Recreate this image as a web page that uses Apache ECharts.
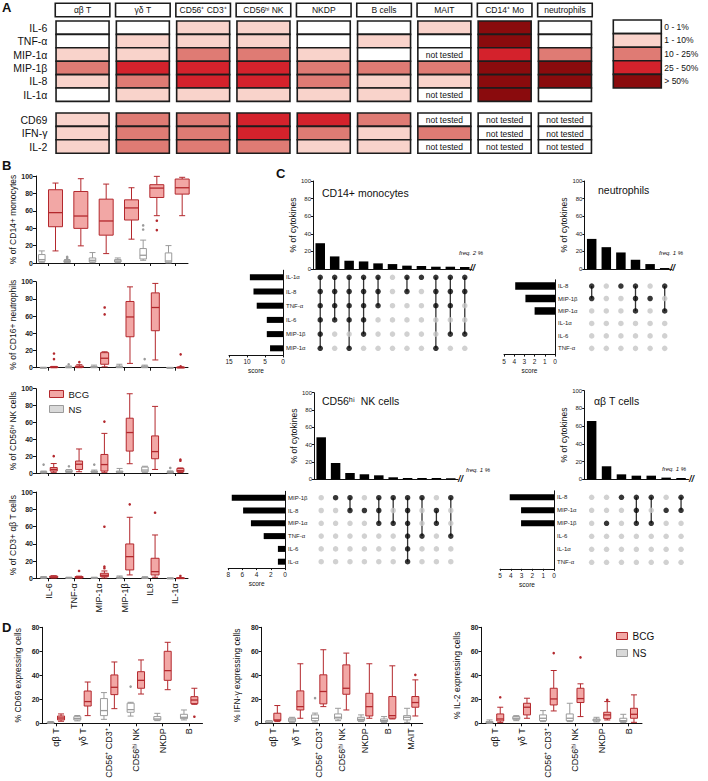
<!DOCTYPE html>
<html><head><meta charset="utf-8">
<script src="https://cdn.jsdelivr.net/npm/echarts@6/dist/echarts.min.js"></script>
<style>html,body{margin:0;padding:0;background:#fff}#chart{width:708px;height:781px}</style>
</head><body><div id="chart"></div>
<script>
const FONT = '"Liberation Sans", Arial, Helvetica, sans-serif';

// ================= DATA =================
// Panel A: levels 0..4 (0-1%,1-10%,10-25%,25-50%,>50%), -1 = not tested
const cellTypes = ['αβ T','γδ T','CD56⁺ CD3⁺','CD56ʰⁱ NK','NKDP','B cells','MAIT','CD14⁺ Mo','neutrophils'];
const cytokinesA = ['IL-6','TNF-α','MIP-1α','MIP-1β','IL-8','IL-1α'];
const markersA = ['CD69','IFN-γ','IL-2'];
const levelLegend = ['0 - 1%','1 - 10%','10 - 25%','25 - 50%','> 50%'];
const cytoLevels = [
  [0,0,1,2,1,0],
  [0,1,1,3,2,1],
  [1,1,2,3,3,1],
  [1,1,2,3,3,1],
  [0,0,1,2,2,1],
  [0,1,0,2,1,1],
  [1,0,-1,2,1,-1],
  [4,4,3,4,4,4],
  [0,0,2,4,4,0]
];
const markerLevels = [
  [1,1,1],
  [2,2,2],
  [2,2,2],
  [3,3,2],
  [3,2,1],
  [2,1,1],
  [-1,2,-1],
  [-1,-1,-1],
  [-1,-1,-1]
];

// Panel B: [min, q1, median, q3, max]
const cytokinesB = ['IL-6','TNF-α','MIP-1α','MIP-1β','IL8','IL-1α'];
const monoNS  = [[0.8,1.9,3.9,9.7,13.9],[0.5,0.8,1.9,3,4],[0.4,1.2,3.1,5.8,12],[0.4,1.2,2.3,3.9,5.8],[3.1,4.6,8.9,16.6,26.3],[0,0.8,2.3,11.6,20]];
const monoBCG = [[13.9,41.7,57.9,84.2,91.9],[19.7,39.8,54,82.2,96.9],[10.8,32,48.3,73.4,90.7],[27.4,49.4,63.3,72.6,86.5],[54.4,75.3,86.1,90,99.6],[54.4,79.2,86.5,96.5,98.5]];
const monoNSOut  = [[1,7],[1,5.5],[4,43.2],[4,38.5]];
const monoBCGOut = [[4,48.6],[4,37.8]];
const neuNS  = [[0,0,0,0.3,0.5],[0,0,0.5,1,2],[0,0.3,0.8,1.5,3],[0,0.4,1,2,4],[0,0.4,1,2,3],[0,0,0,0.2,0.4]];
const neuBCG = [[0,0.2,0.5,1,1.5],[0,0.5,1,2,3.5],[1,4,11,17.5,18.5],[5,36,59,77,94],[9,43,70,87,98],[0,0,0.3,0.6,1]];
const neuNSOut  = [[1,4],[4,10]];
const neuBCGOut = [[0,16.5],[0,10],[1,6.5],[2,70],[2,62],[5,15.5],[5,1.5]];
const nkNS  = [[0,0.4,1,1.6,2.3],[0.4,0.8,1.9,3.5,4],[0.4,0.8,1.5,2.3,3.5],[0.4,0.8,1.2,2.3,5.4],[0.8,1.5,3.5,7,8],[0,0.4,1,1.6,2.5]];
const nkBCG = [[0.8,2.3,4.2,6.5,11.2],[1.5,4.2,10.4,14.2,28.5],[0.8,2.3,10,22,47],[11,26,48,65,94],[4.2,16.9,25.4,44,79],[0.5,1.5,2.7,5.4,6]];
const nkNSOut  = [[0,10],[1,8],[2,10],[5,6]];
const nkBCGOut = [[0,20],[2,61],[5,16],[5,14.5]];
const abNS  = [[0,0.4,1,1.5,2],[0,0.2,0.5,1,1.2],[0,0.2,0.5,1,1.2],[0,0.3,0.8,1.5,2.7],[0,0.2,0.5,1,1.9],[0,0,0,0.2,0.4]];
const abBCG = [[0.3,0.8,1.5,2.5,3],[0.2,0.6,1,2,2.5],[0.4,1.9,3.5,5.8,8.5],[3.9,9.7,25.1,39.8,70.7],[1.2,3.9,7.7,23.2,50.2],[0,0,0.2,0.5,0.8]];
const abNSOut  = [];
const abBCGOut = [[1,8.5],[2,59.8],[2,13.5],[2,11.6],[3,85.7],[4,76],[5,2.7]];

// Panel C (UpSet)
const monoRows   = ['IL-1α','IL-8','TNF-α','IL-6','MIP-1β','MIP-1α'];
const monoScores = [9.2,8.2,7.3,4.5,4.5,3.6];
const monoFreq   = [29.3,14.3,9.4,8.6,6.4,5.6,3.8,3.4,2.6,2.6,2.3];
const monoSets   = [[0,1,2,3,4,5],[0,1,2,3],[0,1,2,3,5],[0,1,2,3,4],[0,1,2],[],[0,1],[0],[0,1,2,5],[0,1,2,4],[0,1,4]];
const neuRows    = ['IL-8','MIP-1β','MIP-1α','IL-1α','IL-6','TNF-α'];
const neuScores  = [3.9,2.9,2.0,0,0,0];
const neuFreq    = [34.2,24.8,18.8,10.5,5.6,1.1];
const neuSets    = [[0,1],[],[0],[0,1,2],[1],[0,2]];
const nkRows     = ['MIP-1β','IL-8','MIP-1α','TNF-α','IL-6','IL-α'];
const nkScores   = [7.5,5.9,4.8,3.0,1.0,1.0];
const nkFreq     = [48.5,18.8,7.3,5.8,4.6,2.3,1.5,1.5,1.5,1.2];
const nkSets     = [[],[0],[0,1],[1],[0,1,2],[0,2],[0,1,2,3,4,5],[0,3],[1,2],[0,3]];
const abRows     = ['IL-8','MIP-1α','MIP-1β','IL-6','IL-1α','TNF-α'];
const abScores   = [4.1,3.05,3.05,0,0,0];
const abFreq     = [65.8,14.7,5.6,4.1,4.1,1.9,1.5];
const abSets     = [[],[2],[0],[0,1,2],[0,2],[1],[0,1]];

// Panel D
const cellsD1 = ['αβ T','γδ T','CD56⁺ CD3⁺','CD56ʰⁱ NK','NKDP','B'];
const cellsD2 = ['αβ T','γδ T','CD56⁺ CD3⁺','CD56ʰⁱ NK','NKDP','B','MAIT'];
const cd69NS  = [[0,0.2,0.5,1,1.5],[2,2.8,4,5.5,6.5],[3.3,6.4,10.6,20.6,25.6],[6,9.2,11.4,16.7,17.5],[2.2,2.8,3.6,5.6,8.3],[2.8,3.9,5,7.5,11.1]];
const cd69BCG = [[1.7,2.8,4.4,6.1,7.8],[6.4,14.4,18.1,26.9,34.4],[12.2,23.9,30,40.3,51.1],[24.4,29.2,35.8,43,52.8],[28,35.8,43.9,60,67.5],[15.8,16.4,19.4,22.2,29.2]];
const cd69NSOut  = [[3,30.6]];
const cd69BCGOut = [[5,5.5]];
const ifnNS  = [[0.5,0.6,1,2,2.2],[0.8,1.4,2.8,4.2,5],[1,2.2,4.2,7,8.5],[2.2,3.6,5,7.8,12.5],[1.4,2.2,3.3,5,7],[0.8,1.4,2.2,3.6,5.6],[0.8,2.8,5,6.4,12.5]];
const ifnBCG = [[1.4,2.2,2.8,8.4,14.8],[4.2,11.1,13.9,27,49.6],[13.9,16.2,26.5,40.4,61.3],[11.1,24.2,29.2,48.7,58.5],[4.2,6.1,13.9,25,49.6],[3.6,4.2,6.4,22.3,47.9],[6.1,13.4,17.3,22.3,36.2]];
const ifnNSOut  = [[2,21],[2,16],[5,11.1]];
const ifnBCGOut = [[6,40.4]];
const il2NS  = [[0,0.3,0.8,1.4,2.8],[2.2,3.3,4.2,5.6,6.4],[1.4,2.2,4.2,7,10.6],[1.4,2.2,4.2,7.8,16.7],[1.1,1.9,2.8,3.6,5],[0.6,1.4,2.2,4.2,7.5]];
const il2BCG = [[0.6,1.9,3.6,7.8,13.4],[4.2,7,13.4,16.7,20.9],[10.3,15.3,20.3,29.2,44],[5.6,17.3,20.6,29.2,32.9],[2.8,3.9,7,9.2,18.1],[0.8,4.2,7.5,12.5,23.7]];
const il2NSOut  = [];
const il2BCGOut = [[0,21.7],[2,58.5],[3,54.9],[4,19.5]];

// ================= STYLE =================
const levelColors = ['#ffffff','#f9d3cb','#df7b74','#d4222c','#8a0b0d'];
const BCG_FILL = '#f2a7a5', BCG_LINE = '#b3282d';
const NS_FILL = '#ffffff', NS_LINE = '#9b9b9b';

const grids = [], xAxes = [], yAxes = [], series = [], graphic = [];
function addCart(grid, xa, ya) {
  const gi = grids.push(Object.assign({outerBoundsMode:'none', containLabel:false}, grid)) - 1;
  const xi = xAxes.push(Object.assign({gridIndex: gi}, xa)) - 1;
  const yi = yAxes.push(Object.assign({gridIndex: gi}, ya)) - 1;
  return {xi, yi};
}
function txt(text, left, top, size, extra) {
  graphic.push({type:'text', left, top, silent:true,
    style: Object.assign({text, fontSize:size, fontFamily:FONT, fill:'#111'}, extra || {})});
}
const hidden = {axisLine:{show:false}, axisTick:{show:false}, axisLabel:{show:false}, splitLine:{show:false}};

// ================= PANEL A =================
function cellRender(fixedW) {
  return function (params, api) {
    const c = api.coord([api.value(0), api.value(1)]);
    const band = api.size([1, 1]);
    const w = fixedW || band[0], h = band[1];
    const lv = api.value(2);
    const kids = [{type:'rect', shape:{x:c[0]-w/2, y:c[1]-h/2, width:w, height:h},
      style:{fill: lv < 0 ? '#fff' : levelColors[lv], stroke:'#1c1c1c', lineWidth:1.6}}];
    if (lv < 0) kids.push({type:'text', x:c[0], y:c[1]+0.5,
      style:{text:'not tested', fill:'#111', fontSize:8.5, fontFamily:FONT, align:'center', verticalAlign:'middle'}});
    return {type:'group', children:kids};
  };
}
const aLeft = 52.4, aWidth = 542.7;
const rowLabel = {fontSize:10.5, color:'#111', fontFamily:FONT, margin:5};
{
  const {xi, yi} = addCart({left:aLeft, top:21, width:aWidth, height:80.4},
    {type:'category', data:cellTypes, position:'top', axisLine:{show:false}, axisTick:{show:false}, splitLine:{show:false},
     axisLabel:{interval:0, margin:5, fontSize:8.5, color:'#111', fontFamily:FONT, backgroundColor:'#fff',
       borderColor:'#1c1c1c', borderWidth:1.6, width:49, height:10, lineHeight:10, padding:[1,2,1,2], align:'center'}},
    {type:'category', data:cytokinesA, inverse:true, axisLine:{show:false}, axisTick:{show:false}, splitLine:{show:false},
     axisLabel:Object.assign({interval:0}, rowLabel)});
  const d = [];
  cytoLevels.forEach((col, i) => col.forEach((lv, r) => d.push([i, r, lv])));
  series.push({type:'custom', xAxisIndex:xi, yAxisIndex:yi, renderItem:cellRender(53), encode:{x:0, y:1}, data:d, silent:true});
}
{
  const {xi, yi} = addCart({left:aLeft, top:113, width:aWidth, height:40.2},
    Object.assign({type:'category', data:cellTypes}, hidden),
    {type:'category', data:markersA, inverse:true, axisLine:{show:false}, axisTick:{show:false}, splitLine:{show:false},
     axisLabel:Object.assign({interval:0}, rowLabel)});
  const d = [];
  markerLevels.forEach((col, i) => col.forEach((lv, r) => d.push([i, r, lv])));
  series.push({type:'custom', xAxisIndex:xi, yAxisIndex:yi, renderItem:cellRender(53), encode:{x:0, y:1}, data:d, silent:true});
}
{
  const {xi, yi} = addCart({left:613.3, top:20, width:48, height:68},
    Object.assign({type:'category', data:['']}, hidden),
    {type:'category', data:levelLegend, inverse:true, position:'right', axisLine:{show:false}, axisTick:{show:false}, splitLine:{show:false},
     axisLabel:{interval:0, fontSize:8.5, color:'#111', fontFamily:FONT, margin:3}});
  series.push({type:'custom', xAxisIndex:xi, yAxisIndex:yi, renderItem:cellRender(0), encode:{x:0, y:1},
    data: levelLegend.map((l, r) => [0, r, r]), silent:true});
}

// ================= BOX PLOTS (B, D) =================
function boxRender(off, bw, fill, stroke) {
  return function (params, api) {
    const cat = api.value(0);
    const band = api.size([1, 0])[0];
    const x = api.coord([cat, 0])[0] + off * band;
    const Y = v => api.coord([cat, v])[1];
    const ymin = Y(api.value(1)), yq1 = Y(api.value(2)), ymed = Y(api.value(3)), yq3 = Y(api.value(4)), ymax = Y(api.value(5));
    const cap = Math.min(bw, 6) / 2;
    const st = {stroke, lineWidth:1};
    return {type:'group', children:[
      {type:'line', shape:{x1:x, y1:ymax, x2:x, y2:yq3}, style:st},
      {type:'line', shape:{x1:x, y1:yq1, x2:x, y2:ymin}, style:st},
      {type:'line', shape:{x1:x-cap, y1:ymax, x2:x+cap, y2:ymax}, style:st},
      {type:'line', shape:{x1:x-cap, y1:ymin, x2:x+cap, y2:ymin}, style:st},
      {type:'rect', shape:{x:x-bw/2, y:yq3, width:bw, height:Math.max(yq1-yq3, 0.8)}, style:{fill, stroke, lineWidth:1}},
      {type:'line', shape:{x1:x-bw/2, y1:ymed, x2:x+bw/2, y2:ymed}, style:{stroke, lineWidth:1.3}}
    ]};
  };
}
function outRender(off, color) {
  return function (params, api) {
    const cat = api.value(0);
    const band = api.size([1, 0])[0];
    const p = api.coord([cat, api.value(1)]);
    return {type:'circle', shape:{cx:p[0] + off*band, cy:p[1], r:1.3}, style:{fill:color}};
  };
}
function addBoxes(xi, yi, ns, bcg, nsOut, bcgOut, off, bwNS, bwBCG) {
  series.push({type:'custom', name:'NS', xAxisIndex:xi, yAxisIndex:yi, renderItem:boxRender(-off, bwNS, NS_FILL, NS_LINE),
    encode:{x:0, y:[1,2,3,4,5]}, data:ns.map((v, i) => [i].concat(v)), itemStyle:{color:'#d9d9d9'}, silent:true});
  series.push({type:'custom', name:'BCG', xAxisIndex:xi, yAxisIndex:yi, renderItem:boxRender(off, bwBCG, BCG_FILL, BCG_LINE),
    encode:{x:0, y:[1,2,3,4,5]}, data:bcg.map((v, i) => [i].concat(v)), itemStyle:{color:BCG_FILL}, silent:true});
  series.push({type:'custom', name:'NS outliers', xAxisIndex:xi, yAxisIndex:yi, renderItem:outRender(-off, NS_LINE),
    encode:{x:0, y:1}, data:nsOut, silent:true});
  series.push({type:'custom', name:'BCG outliers', xAxisIndex:xi, yAxisIndex:yi, renderItem:outRender(off, BCG_LINE),
    encode:{x:0, y:1}, data:bcgOut, silent:true});
}
const axLine = {show:true, lineStyle:{color:'#111', width:1}};
const tickLbl = {fontSize:7, fontWeight:'bold', color:'#222', fontFamily:FONT, margin:3};

// Panel B
const bPanels = [
  {top:176,   h:87,   name:'% of CD14+ monocytes',  ns:monoNS, bcg:monoBCG, nsO:monoNSOut, bcgO:monoBCGOut, bw:14, off:0.27},
  {top:281.7, h:86,   name:'% of CD16+ neutrophils', ns:neuNS,  bcg:neuBCG,  nsO:neuNSOut,  bcgO:neuBCGOut,  bw:8,  off:0.21},
  {top:388.7, h:84.3, name:'% of CD56ʰⁱ NK cells',   ns:nkNS,   bcg:nkBCG,   nsO:nkNSOut,   bcgO:nkBCGOut,   bw:7,  off:0.2},
  {top:492,   h:86.3, name:'% of CD3+ αβ T cells',   ns:abNS,   bcg:abBCG,   nsO:abNSOut,   bcgO:abBCGOut,   bw:8,  off:0.2}
];
bPanels.forEach((p, k) => {
  const last = k === bPanels.length - 1;
  const {xi, yi} = addCart({left:36, top:p.top, width:152, height:p.h},
    {type:'category', data:cytokinesB, axisLine:axLine, axisTick:{show:true, alignWithLabel:true, length:3, lineStyle:{color:'#111'}},
     splitLine:{show:false},
     axisLabel:{show:last, interval:0, rotate:90, fontSize:9, color:'#111', fontFamily:FONT, margin:5}},
    {type:'value', min:0, max:100, interval:20, axisLine:axLine, axisTick:{show:true, length:3, lineStyle:{color:'#111'}},
     splitLine:{show:false}, axisLabel:tickLbl,
     name:p.name, nameLocation:'middle', nameGap:19, nameRotate:90,
     nameTextStyle:{fontSize:8.5, color:'#111', fontFamily:FONT}});
  addBoxes(xi, yi, p.ns, p.bcg, p.nsO, p.bcgO, p.off, 6.5, p.bw);
});

// Panel D
const dPanels = [
  {left:42.5,  width:160,   cats:cellsD1, name:'% CD69 expressing cells',  ns:cd69NS, bcg:cd69BCG, nsO:cd69NSOut, bcgO:cd69BCGOut, off:0.195},
  {left:261.7, width:161,   cats:cellsD2, name:'% IFN-γ expressing cells', ns:ifnNS,  bcg:ifnBCG,  nsO:ifnNSOut,  bcgO:ifnBCGOut,  off:0.18},
  {left:481.5, width:160.5, cats:cellsD1, name:'% IL-2 expressing cells',  ns:il2NS,  bcg:il2BCG,  nsO:il2NSOut,  bcgO:il2BCGOut,  off:0.2}
];
dPanels.forEach(p => {
  const {xi, yi} = addCart({left:p.left, top:627.3, width:p.width, height:96},
    {type:'category', data:p.cats, axisLine:axLine, axisTick:{show:true, alignWithLabel:true, length:3, lineStyle:{color:'#111'}},
     splitLine:{show:false},
     axisLabel:{interval:0, rotate:90, fontSize:9, color:'#111', fontFamily:FONT, margin:5}},
    {type:'value', min:0, max:80, interval:20, axisLine:axLine, axisTick:{show:true, length:3, lineStyle:{color:'#111'}},
     splitLine:{show:false}, axisLabel:tickLbl,
     name:p.name, nameLocation:'middle', nameGap:20, nameRotate:90,
     nameTextStyle:{fontSize:8.5, color:'#111', fontFamily:FONT}});
  addBoxes(xi, yi, p.ns, p.bcg, p.nsO, p.bcgO, p.off, 7, 7);
});

// ================= PANEL C (UpSet) =================
function lineRender(params, api) {
  const p1 = api.coord([api.value(0), api.value(1)]);
  const p2 = api.coord([api.value(0), api.value(2)]);
  return {type:'line', shape:{x1:p1[0], y1:p1[1], x2:p2[0], y2:p2[1]}, style:{stroke:'#333', lineWidth:1.3}};
}
function addUpset(u) {
  const cols = u.freq.map((v, i) => String(i));
  const small = {fontSize:6, color:'#222', fontFamily:FONT};
  // frequency bars
  let a = addCart({left:u.left, top:u.barTop, width:u.width, height:u.barH},
    {type:'category', data:cols, axisLine:axLine, axisTick:{show:false}, axisLabel:{show:false}, splitLine:{show:false}},
    {type:'value', min:0, max:100, interval:20, axisLine:axLine, axisTick:{show:true, length:2, lineStyle:{color:'#111'}},
     splitLine:{show:false}, axisLabel:Object.assign({margin:2}, small),
     name:'% of cytokines', nameLocation:'middle', nameGap:16, nameRotate:90,
     nameTextStyle:{fontSize:8.5, color:'#111', fontFamily:FONT}});
  series.push({type:'bar', xAxisIndex:a.xi, yAxisIndex:a.yi, data:u.freq, barWidth:9.5, itemStyle:{color:'#000'}, silent:true});
  // matrix
  a = addCart({left:u.left, top:u.matTop, width:u.width, height:u.matH},
    Object.assign({type:'category', data:cols}, hidden),
    Object.assign({type:'category', data:u.rows, inverse:true}, hidden));
  const on = [], off = [], lines = [];
  u.sets.forEach((s, c) => {
    u.rows.forEach((r, ri) => (s.indexOf(ri) >= 0 ? on : off).push([c, ri]));
    if (s.length > 1) lines.push([c, Math.min.apply(null, s), Math.max.apply(null, s)]);
  });
  series.push({type:'custom', xAxisIndex:a.xi, yAxisIndex:a.yi, renderItem:lineRender, encode:{x:0, y:[1,2]}, data:lines, z:1, silent:true});
  series.push({type:'scatter', xAxisIndex:a.xi, yAxisIndex:a.yi, data:off, symbolSize:5.5, itemStyle:{color:'#c6c6c6'}, z:2, silent:true});
  series.push({type:'scatter', xAxisIndex:a.xi, yAxisIndex:a.yi, data:on, symbolSize:5.5, itemStyle:{color:'#050505'}, z:3, silent:true});
  // score bars
  a = addCart({left:u.sLeft, top:u.matTop, width:u.sWidth, height:u.matH},
    {type:'value', inverse:true, min:0, max:u.sMax, interval:u.sInt, axisLine:axLine,
     axisTick:{show:true, length:2, lineStyle:{color:'#111'}}, splitLine:{show:false},
     axisLabel:Object.assign({margin:3}, small, {fontSize:6.5}),
     name:'score', nameLocation:'middle', nameGap:12, nameTextStyle:{fontSize:6.5, color:'#111', fontFamily:FONT}},
    {type:'category', data:u.rows, inverse:true, position:'right', axisLine:axLine, axisTick:{show:false}, splitLine:{show:false},
     axisLabel:Object.assign({interval:0, margin:3}, small)});
  series.push({type:'bar', xAxisIndex:a.xi, yAxisIndex:a.yi, data:u.scores, barWidth:u.sBar, itemStyle:{color:'#000'}, silent:true});
}
addUpset({freq:monoFreq, rows:monoRows, scores:monoScores, sets:monoSets,
  left:313, width:159, barTop:181, barH:88, matTop:270.2, matH:85.2, sLeft:229, sWidth:54, sMax:15, sInt:5, sBar:6});
addUpset({freq:neuFreq, rows:neuRows, scores:neuScores, sets:neuSets,
  left:584.4, width:87.6, barTop:181, barH:88, matTop:279.8, matH:74.8, sLeft:504, sWidth:51, sMax:5, sInt:1, sBar:7.5});
addUpset({freq:nkFreq, rows:nkRows, scores:nkScores, sets:nkSets,
  left:314, width:144, barTop:392.7, barH:86.6, matTop:491.3, matH:76.8, sLeft:228.2, sWidth:56.8, sMax:8, sInt:2, sBar:6});
addUpset({freq:abFreq, rows:abRows, scores:abScores, sets:abSets,
  left:584.2, width:104.3, barTop:390.7, barH:88.6, matTop:490.8, matH:78, sLeft:500, sWidth:54, sMax:5, sInt:1, sBar:6});

// ================= TEXT =================
txt('A', 2, 1, 13, {fontWeight:'bold'});
txt('B', 2, 159, 13, {fontWeight:'bold'});
txt('C', 276, 167, 13, {fontWeight:'bold'});
txt('D', 2, 621, 13, {fontWeight:'bold'});
txt('CD14+ monocytes', 322, 187, 10.5);
txt('neutrophils', 598, 184, 10.5);
txt('CD56ʰⁱ  NK cells', 322, 395, 10.5);
txt('αβ T cells', 594, 395, 10.5);
const it = {fontStyle:'italic'};
txt('freq. 2 %', 459, 250, 6, it);
txt('freq. 1 %', 659, 250, 6, it);
txt('freq. 1 %', 466, 467, 6, it);
txt('freq. 1 %', 662, 466, 6, it);
const br = {fontStyle:'italic', fontWeight:'bold'};
txt('//', 470, 263, 9, br);
txt('//', 670, 263, 9, br);
txt('//', 458, 474, 9, br);
txt('//', 689, 474, 9, br);

const chart = echarts.init(document.getElementById('chart'), null, {renderer:'svg'});
chart.setOption({
  animation:false, backgroundColor:'#fff',
  textStyle:{fontFamily:FONT},
  grid:grids, xAxis:xAxes, yAxis:yAxes, series, graphic,
  legend:[
    {left:44, top:384, orient:'vertical', itemWidth:14, itemHeight:7, itemGap:5, selectedMode:false,
     textStyle:{fontSize:9.5, color:'#111', fontFamily:FONT},
     data:[{name:'BCG', icon:'rect', itemStyle:{color:BCG_FILL, borderColor:BCG_LINE, borderWidth:1}},
           {name:'NS', icon:'rect', itemStyle:{color:'#d9d9d9', borderColor:NS_LINE, borderWidth:1}}]},
    {left:611, top:626, orient:'vertical', itemWidth:11, itemHeight:7, itemGap:7, selectedMode:false,
     textStyle:{fontSize:10, color:'#111', fontFamily:FONT},
     data:[{name:'BCG', icon:'rect', itemStyle:{color:BCG_FILL, borderColor:BCG_LINE, borderWidth:1}},
           {name:'NS', icon:'rect', itemStyle:{color:'#d9d9d9', borderColor:NS_LINE, borderWidth:1}}]}
  ]
});
</script></body></html>
